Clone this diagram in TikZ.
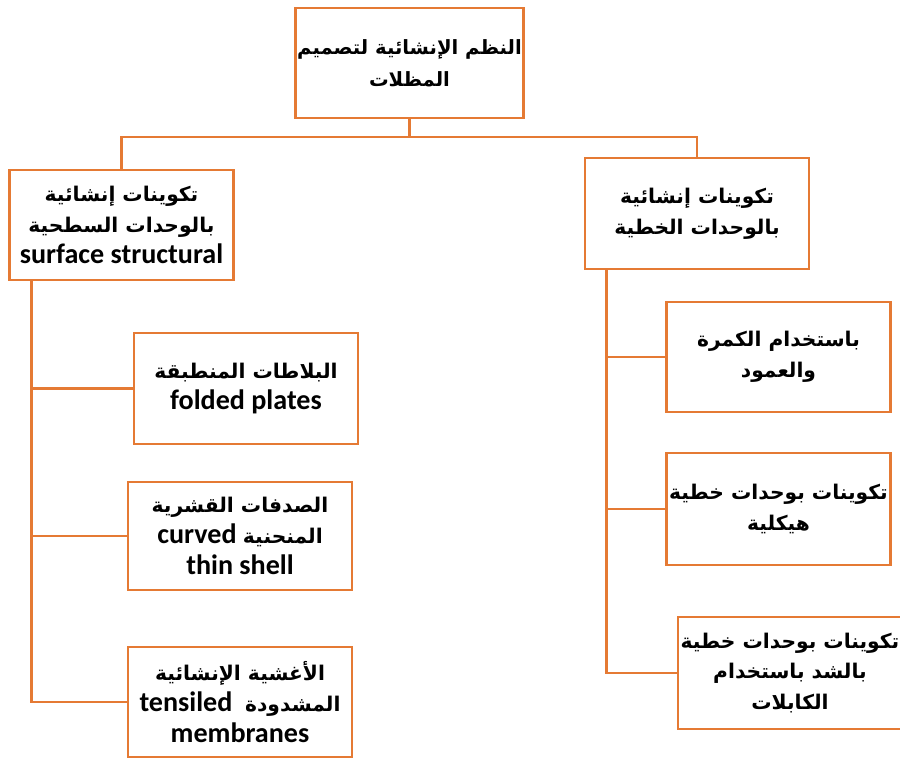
\documentclass[tikz,border=0pt]{standalone}
\usepackage{fontspec}
\setmainfont{Carlito}
\newfontfamily\arabicfont[Script=Arabic,Scale=0.72]{DejaVu Sans}
\TeXXeTstate=1
\definecolor{boxorange}{RGB}{229, 122, 52}
\newcommand{\artext}[1]{\beginR{\arabicfont\bfseries #1}\endR}

\begin{document}
\begin{tikzpicture}[x=0.02cm, y=-0.02cm,
  obox/.style={draw=boxorange, line width=1.6pt, minimum width=4.48cm, minimum height=2.22cm, align=center, inner sep=1pt, font=\fontsize{16}{17.6}\selectfont\bfseries},
  link/.style={draw=boxorange, line width=1.6pt}
]
  \useasboundingbox (0,0) rectangle (900,758);
  % top level
  \node[obox, minimum width=4.5cm, minimum height=2.2cm, font=\fontsize{15.5}{18}\selectfont\bfseries] (root) at (409.5,63) {\artext{النظم الإنشائية لتصميم}\\ \artext{المظلات}};
  \node[obox, minimum height=2.2cm] (surf) at (121.5,225) {\artext{تكوينات إنشائية}\\ \artext{بالوحدات السطحية}\\ surface structural};
  \node[obox] (lin) at (697,213.5) {\artext{تكوينات إنشائية}\\ \artext{بالوحدات الخطية}};
  % surface branch
  \node[obox] (folded) at (246,388.5) {\artext{البلاطات المنطبقة}\\ folded plates};
  \node[obox, minimum height=2.16cm] (shell) at (240,536) {\artext{الصدفات القشرية}\\ \beginR{\arabicfont\bfseries المنحنية} \beginL curved\endL\endR\\ thin shell};
  \node[obox, minimum height=2.2cm] (membrane) at (240,702) {\artext{الأغشية الإنشائية}\\ \beginR{\arabicfont\bfseries المشدودة}\ \ \beginL tensiled\endL\endR\\ membranes};
  % linear branch
  \node[obox, minimum height=2.2cm] (beam) at (778.5,357) {\artext{باستخدام الكمرة}\\ \artext{والعمود}};
  \node[obox, minimum height=2.24cm] (frame) at (778.5,509) {\artext{تكوينات بوحدات خطية}\\ \artext{هيكلية}};
  \node[obox, minimum height=2.24cm] (cable) at (790,673) {\artext{تكوينات بوحدات خطية}\\ \artext{بالشد باستخدام}\\ \artext{الكابلات}};

  \coordinate (split) at (409.5,137);
  \draw[link] (root.south) -- (split);
  \draw[link] (split) -| (surf.north);
  \draw[link] (split) -| (lin.north);
  \foreach \n in {folded,shell,membrane}
    \draw[link] ([xshift=0.46cm]surf.south west) |- (\n.west);
  \foreach \n in {beam,frame,cable}
    \draw[link] ([xshift=0.46cm]lin.south west) |- (\n.west);
\end{tikzpicture}
\end{document}
